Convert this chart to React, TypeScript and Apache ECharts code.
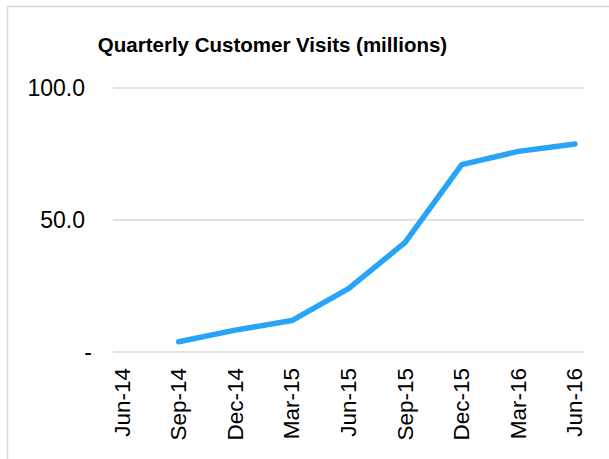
import React, { useEffect, useRef } from "react";
import * as echarts from "echarts";

const categories = ["Jun-14", "Sep-14", "Dec-14", "Mar-15", "Jun-15", "Sep-15", "Dec-15", "Mar-16", "Jun-16"];
const visits: (number | null)[] = [null, 3.9, 8.3, 11.9, 24.0, 41.5, 71.0, 76.0, 78.8];
const yTicks = [0, 50, 100];
const titleText = "Quarterly Customer Visits (millions)";

const FONT = "'Liberation Sans', Arial, Helvetica, sans-serif";

export default function App() {
  const ref = useRef<HTMLDivElement>(null);
  useEffect(() => {
    if (!ref.current) return;
    const chart = echarts.init(ref.current, null, { renderer: "svg" });
    const seriesData = visits
      .map((v, i) => (v === null ? null : [i, v]))
      .filter((d) => d !== null);
    chart.setOption({
      animation: false,
      backgroundColor: "#ffffff",
      title: {
        text: titleText,
        left: 267.5,
        top: 29,
        textAlign: "center",
        textStyle: { fontFamily: FONT, fontSize: 20.5, fontWeight: "bold", color: "#000000" },
      },
      graphic: [
        {
          type: "rect",
          shape: { x: 7.5, y: 6.5, width: 700, height: 600 },
          style: { fill: "none", stroke: "#d9d9d9", lineWidth: 1.5 },
          silent: true,
        },
      ],
      grid: { left: 113, right: 25, top: 88, bottom: 107, containLabel: false },
      xAxis: {
        type: "value",
        min: -0.16,
        max: categories.length - 1 + 0.16,
        axisLine: { show: false },
        axisTick: { show: false },
        splitLine: { show: false },
        axisLabel: {
          customValues: categories.map((_, i) => i),
          formatter: (v: number) => categories[Math.round(v)] ?? "",
          rotate: 90,
          margin: 16,
          fontFamily: FONT,
          fontSize: 22.5,
          color: "#000000",
        },
      },
      yAxis: {
        type: "value",
        min: 0,
        max: 100,
        interval: 50,
        axisLine: { show: false },
        axisTick: { show: false },
        splitLine: { show: true, lineStyle: { color: "#d9d9d9", width: 1.5 } },
        axisLabel: {
          customValues: yTicks,
          margin: 21,
          fontFamily: FONT,
          fontSize: 23,
          color: "#000000",
          formatter: (v: number) => (v === 0 ? "{d|-}" : `{n|${v.toFixed(1)}}`),
          rich: {
            n: { fontFamily: FONT, fontSize: 23, color: "#000000", padding: [0, 7, 0, 0] },
            d: { fontFamily: FONT, fontSize: 23, color: "#000000" },
          },
        },
      },
      series: [
        {
          type: "line",
          data: seriesData,
          showSymbol: false,
          symbol: "none",
          lineStyle: { color: "#27a4f7", width: 5.5, cap: "round", join: "round" },
          itemStyle: { color: "#27a4f7" },
        },
      ],
    });
    return () => chart.dispose();
  }, []);
  return (
    <div style={{ position: "absolute", left: 0, top: 0, width: 609, height: 459 }}>
      <div ref={ref} style={{ width: 609, height: 459 }} />
    </div>
  );
}
